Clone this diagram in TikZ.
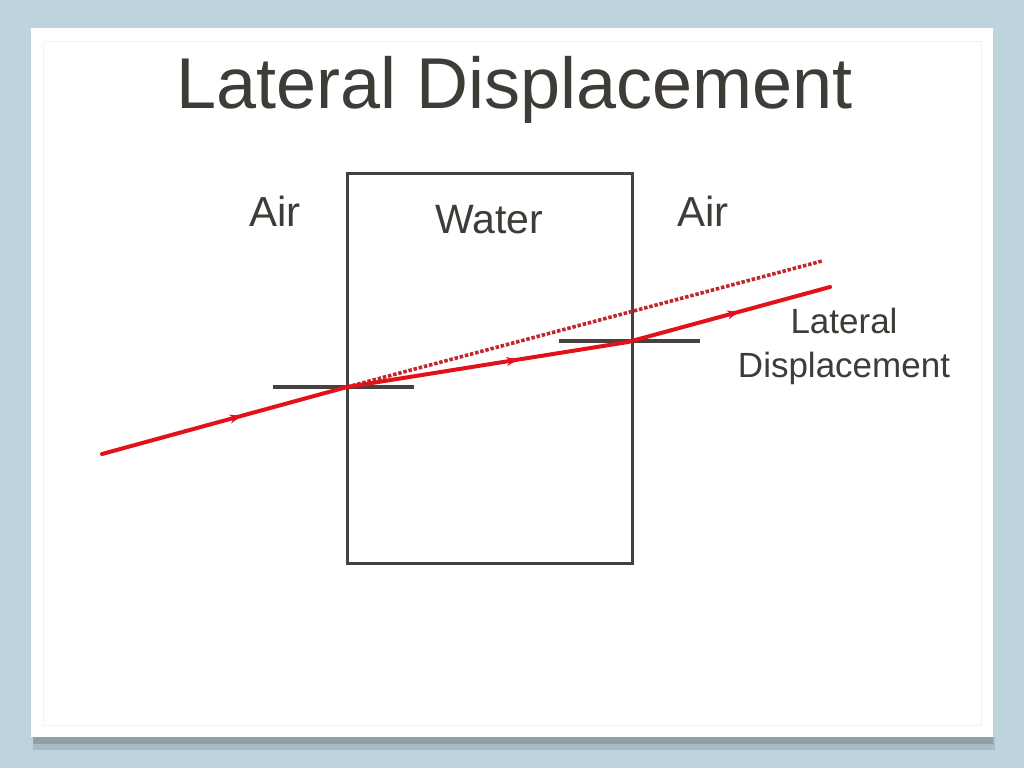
\documentclass[tikz,border=0pt]{standalone}
\usepackage{fontspec}
\setmainfont{Liberation Sans}
\usetikzlibrary{decorations.markings,arrows.meta}
\definecolor{bgblue}{HTML}{BFD3DC}
\definecolor{ink}{HTML}{3F3B37}
\definecolor{boxgray}{HTML}{45413D}
\definecolor{rayred}{HTML}{E3121A}
\definecolor{dotred}{HTML}{C1272D}
\definecolor{shadowgray}{HTML}{7E8E96}
\tikzset{
  lbl/.style={inner sep=0pt, text=ink, anchor=base west},
  ray/.style={draw=rayred, line width=4pt, line cap=round},
  midarrow/.style={postaction={decorate, decoration={markings,
     mark=at position #1 with {\arrow[rayred]{Stealth[length=12pt,width=9pt]}}}}},
  normalline/.style={draw=boxgray, line width=3.3pt},
  watersq/.style={draw=boxgray, line width=3pt, minimum width=285pt, minimum height=390pt, inner sep=0pt}
}
\begin{document}
\begin{tikzpicture}[x=1pt,y=-1pt]
\useasboundingbox (0,0) rectangle (1024,768);
\fill[bgblue] (0,0) rectangle (1024,768);
% card shadow
\fill[shadowgray, opacity=0.35] (33,737) rectangle (995,750);
\fill[shadowgray, opacity=0.6] (33,737) rectangle (993,744);
\fill[white] (31,28) rectangle (993,737);
\draw[black!5, line width=0.6pt] (43,41) rectangle (981,725);
% title
\node[lbl, font=\fontsize{72}{80}\selectfont] (title) at (176,108) {Lateral Displacement};
% labels
\node[lbl, font=\fontsize{42}{48}\selectfont] (airL) at (249,226) {Air};
\node[lbl, font=\fontsize{41}{46}\selectfont] (waterlbl) at (435,233) {Water};
\node[lbl, font=\fontsize{42}{48}\selectfont] (airR) at (677,226) {Air};
\node[text=ink, font=\fontsize{35}{44}\selectfont, align=center, inner sep=0pt, anchor=base] (lat) at (844,377) {Lateral\\Displacement};
% water block
\node[watersq] (water) at (489.5,368) {};
% points
\coordinate (src) at (102,454);
\coordinate (p1) at (347,387);
\coordinate (p2) at (628,342);
\coordinate (out) at (830,287);
\coordinate (dotend) at (822,261);
\coordinate (n1a) at (273,387);
\coordinate (n1b) at (414,387);
\coordinate (n2a) at (559,341);
\coordinate (n2b) at (700,341);
% normals
\draw[normalline] (n1a) -- (n1b);
\draw[normalline] (n2a) -- (n2b);
% dotted continuation
\draw[dotred, line width=3.6pt, dash pattern=on 3.5pt off 1.8pt] (p1) -- (dotend);
% rays
\draw[ray, midarrow=0.57] (src) -- (p1);
\draw[ray, midarrow=0.61] (p1) -- (p2);
\draw[ray, midarrow=0.55] (p2) -- (out);
\end{tikzpicture}
\end{document}
